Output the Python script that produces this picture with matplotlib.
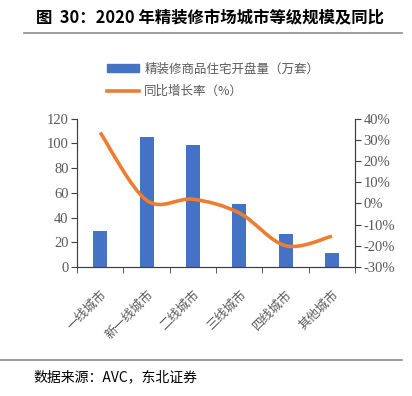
import numpy as np
import matplotlib
matplotlib.use("Agg")
import matplotlib.pyplot as plt
from matplotlib.path import Path
from matplotlib.patches import PathPatch, Patch
from matplotlib.lines import Line2D

plt.rcParams['font.family'] = ['Noto Sans CJK SC', 'DejaVu Sans']

cities = ["一线城市", "新一线城市", "二线城市", "三线城市", "四线城市", "其他城市"]
volume = [29, 105, 99, 51, 27, 11]          # 万套
growth = [33.5, 1.5, 2.0, -4.5, -20.0, -15.5]  # %

bar_color = "#4472C4"
line_color = "#ED7D31"
serif = "Liberation Serif"

fig = plt.figure(figsize=(4.12, 3.96), dpi=100)
ax = fig.add_axes([0.187, 0.326, 0.675, 0.374])
ax2 = ax.twinx()

x = np.arange(len(cities))
ax.bar(x, volume, width=0.3, color=bar_color, zorder=2)
ax.set_xlim(-0.5, len(cities) - 0.5)
ax.set_ylim(0, 120)
ax.set_yticks(range(0, 121, 20))
ax.set_yticklabels([str(v) for v in range(0, 121, 20)], family=serif, fontsize=10.5, color="#595959")
ax.set_xticks(x)
ax.set_xticklabels(cities, rotation=45, ha="right", rotation_mode="anchor",
                   fontsize=9, color="#595959")
ax.tick_params(axis="x", length=0, pad=15)
ax.set_xticks(np.arange(-0.5, len(cities), 1), minor=True)
ax.tick_params(axis="x", which="minor", length=4, direction="out", color="#404040")
ax.tick_params(axis="y", length=4, direction="out", color="#404040", pad=2)

# smooth line through the growth values (Catmull-Rom -> cubic bezier)
pts = np.column_stack([x, growth]).astype(float)
verts = [tuple(pts[0])]
codes = [Path.MOVETO]
for i in range(len(pts) - 1):
    p0 = pts[i - 1] if i > 0 else pts[i]
    p1, p2 = pts[i], pts[i + 1]
    p3 = pts[i + 2] if i + 2 < len(pts) else pts[i + 1]
    c1 = p1 + (p2 - p0) / 6.0
    c2 = p2 - (p3 - p1) / 6.0
    verts += [tuple(c1), tuple(c2), tuple(p2)]
    codes += [Path.CURVE4] * 3
ax2.add_patch(PathPatch(Path(verts, codes), facecolor="none", edgecolor=line_color,
                        lw=2.6, capstyle="butt", zorder=3))
ax2.set_ylim(-30, 40)
ax2.set_yticks(range(-30, 41, 10))
ax2.set_yticklabels([f"{v}%" for v in range(-30, 41, 10)], family=serif, fontsize=10.5, color="#595959")
ax2.tick_params(axis="y", length=4, direction="out", color="#404040", pad=2)

for a in (ax, ax2):
    a.spines["top"].set_visible(False)
    for s in ("left", "right", "bottom"):
        a.spines[s].set_color("#404040")
        a.spines[s].set_linewidth(0.8)

handles = [Patch(color=bar_color), Line2D([0], [0], color=line_color, lw=2.6)]
fig.legend(handles, ["精装修商品住宅开盘量（万套）", "同比增长率（%）"],
           loc="upper left", bbox_to_anchor=(0.232, 0.87), frameon=False,
           fontsize=9, labelcolor="#595959", handlelength=2.6, handleheight=0.6,
           labelspacing=0.75, handletextpad=0.4)

fig.text(0.087, 0.955, "图  30：2020 年精装修市场城市等级规模及同比",
         fontsize=11.8, fontweight="bold", va="center", ha="left", color="black")
fig.add_artist(Line2D([0.058, 0.975], [0.917, 0.917], color="#8c8c8c", lw=1.2))
fig.add_artist(Line2D([0.0, 0.975], [0.09, 0.09], color="#8c8c8c", lw=1.2))
fig.text(0.08, 0.047, "数据来源：AVC，东北证券", fontsize=10, va="center", ha="left", color="black")

fig.savefig("out.png", dpi=100)
